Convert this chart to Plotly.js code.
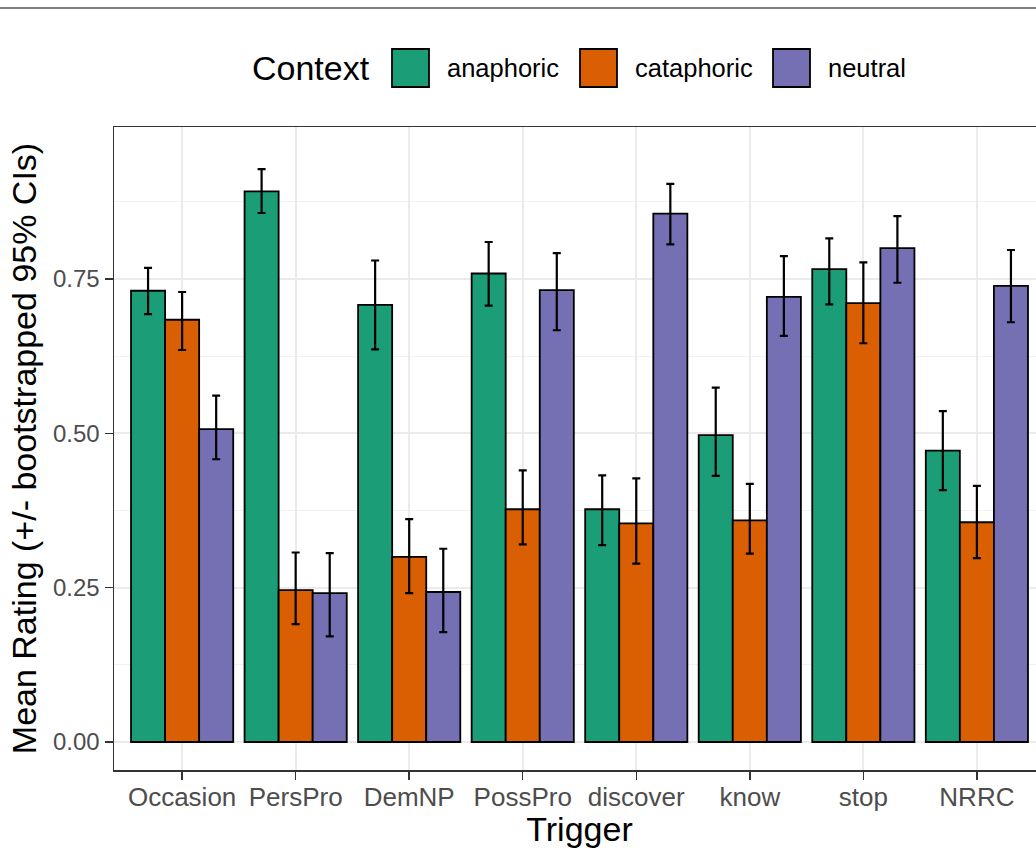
<!DOCTYPE html>
<html>
<head>
<meta charset="utf-8">
<script src="https://cdn.plot.ly/plotly-3.0.1.min.js"></script>
<style>
html,body{margin:0;padding:0;overflow:hidden;background:#fff;}
#chart{width:1060px;height:848px;}
</style>
</head>
<body>
<div id="chart"></div>
<script>
// ---- data ----
const triggers = ['Occasion','PersPro','DemNP','PossPro','discover','know','stop','NRRC'];
const contexts = ['anaphoric','cataphoric','neutral'];
const colors = ['#1B9E77','#D95F02','#7570B3'];

const anaphoricMean  = [0.731, 0.892, 0.708, 0.759, 0.377, 0.497, 0.766, 0.472];
const anaphoricLower = [0.693, 0.857, 0.636, 0.707, 0.319, 0.431, 0.709, 0.408];
const anaphoricUpper = [0.768, 0.928, 0.780, 0.810, 0.432, 0.574, 0.816, 0.536];

const cataphoricMean  = [0.684, 0.246, 0.300, 0.377, 0.354, 0.359, 0.711, 0.356];
const cataphoricLower = [0.635, 0.191, 0.241, 0.320, 0.289, 0.305, 0.646, 0.298];
const cataphoricUpper = [0.729, 0.307, 0.361, 0.440, 0.427, 0.418, 0.777, 0.415];

const neutralMean  = [0.507, 0.241, 0.243, 0.732, 0.856, 0.721, 0.800, 0.739];
const neutralLower = [0.458, 0.171, 0.178, 0.667, 0.806, 0.658, 0.744, 0.680];
const neutralUpper = [0.561, 0.306, 0.313, 0.792, 0.904, 0.787, 0.852, 0.797];

const yTickVals = [0, 0.25, 0.5, 0.75];
const yTickText = ['0.00', '0.25', '0.50', '0.75'];

// ---- build ----
const series = [
  [anaphoricMean, anaphoricLower, anaphoricUpper],
  [cataphoricMean, cataphoricLower, cataphoricUpper],
  [neutralMean, neutralLower, neutralUpper]
];
const FONT = 'Liberation Sans, Arial, Helvetica, sans-serif';

const traces = series.map((s, i) => ({
  type: 'bar',
  name: contexts[i],
  x: triggers,
  y: s[0],
  marker: {color: colors[i], line: {color: '#000', width: 1.8}},
  error_y: {
    type: 'data', symmetric: false,
    array: s[2].map((u, k) => u - s[0][k]),
    arrayminus: s[0].map((m, k) => m - s[1][k]),
    color: '#000', thickness: 2.2, width: 4
  },
  showlegend: false,
  hoverinfo: 'x+y'
}));

// pixel helpers for layout decorations
const W = 1060, H = 848, ML = 114, MR = 15, MT = 127, MB = 78;
const PW = W - ML - MR, PH = H - MT - MB;
const px = v => (v - ML) / PW;
const py = v => (H - MB - v) / PH;

const shapes = [
  {type: 'line', xref: 'paper', yref: 'paper', x0: px(0), x1: px(1060), y0: py(8), y1: py(8),
   line: {color: '#555', width: 1.3}}
];
const annotations = [
  {xref: 'paper', yref: 'paper', x: px(250), y: py(68), xanchor: 'left', yanchor: 'middle',
   text: 'Context', showarrow: false, font: {family: FONT, size: 34, color: '#000'}}
];
const keyX = [392, 580, 773];
contexts.forEach((c, i) => {
  shapes.push({type: 'rect', xref: 'paper', yref: 'paper',
    x0: px(keyX[i]), x1: px(keyX[i] + 37), y0: py(87), y1: py(49),
    fillcolor: colors[i], line: {color: '#000', width: 1.8}});
  annotations.push({xref: 'paper', yref: 'paper', x: px(keyX[i] + 53), y: py(68),
    xanchor: 'left', yanchor: 'middle', text: c, showarrow: false,
    font: {family: FONT, size: 25.5, color: '#000'}});
});

const layout = {
  width: W, height: H,
  margin: {l: ML, r: MR, t: MT, b: MB, pad: 0},
  paper_bgcolor: '#fff', plot_bgcolor: '#fff',
  font: {family: FONT},
  barmode: 'group', bargap: 0.1, bargroupgap: 0,
  xaxis: {
    type: 'category', range: [-0.6, 7.6],
    showgrid: true, gridcolor: '#EBEBEB', gridwidth: 1.8,
    showline: true, linecolor: '#333', linewidth: 1.5, mirror: true,
    ticks: 'outside', ticklen: 8, tickwidth: 1.5, tickcolor: '#333',
    ticklabelstandoff: -5,
    tickfont: {family: FONT, size: 26, color: '#4D4D4D'},
    title: {text: 'Trigger', font: {family: FONT, size: 34, color: '#000'}, standoff: 8},
    zeroline: false, fixedrange: true
  },
  yaxis: {
    range: [-0.0454, 0.9963],
    tickvals: yTickVals, ticktext: yTickText,
    showgrid: true, gridcolor: '#EBEBEB', gridwidth: 1.8,
    minor: {tick0: 0.125, dtick: 0.25, showgrid: true, gridcolor: '#F2F2F2', gridwidth: 1, ticks: ''},
    showline: true, linecolor: '#333', linewidth: 1.5, mirror: true,
    ticks: 'outside', ticklen: 8, tickwidth: 1.5, tickcolor: '#333',
    tickfont: {family: FONT, size: 24, color: '#4D4D4D'},
    title: {text: 'Mean Rating (+/- bootstrapped 95% CIs)', font: {family: FONT, size: 34, color: '#000'}, standoff: 6},
    zeroline: false, fixedrange: true
  },
  shapes: shapes,
  annotations: annotations
};

Plotly.newPlot('chart', traces, layout, {displayModeBar: false, staticPlot: true});
</script>
</body>
</html>
